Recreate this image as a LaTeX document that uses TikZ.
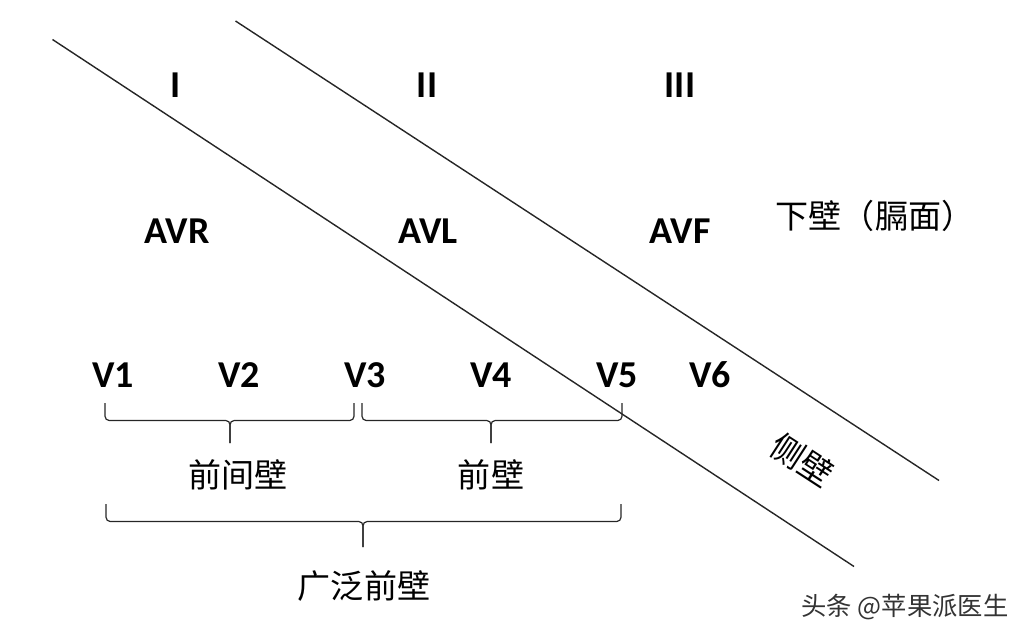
\documentclass[tikz,border=0pt]{standalone}
\usepackage{fontspec}
\setmainfont{Carlito}
\newfontfamily\cjkfont{Noto Sans CJK SC}
\usetikzlibrary{positioning}

\begin{document}
\begin{tikzpicture}[
    x=0.025cm, y=-0.025cm,
    lead/.style={font=\fontsize{27}{30}\selectfont\bfseries, inner sep=0pt},
    wall/.style={font=\cjkfont\fontsize{23.5}{26}\selectfont, inner sep=0pt},
    divider/.style={line width=1pt, black!85},
    brace/.style={line width=0.85pt, black!85, rounded corners=3},
]
\useasboundingbox (0,0) rectangle (1033,639);

% Dividing lines
\coordinate (d1a) at (52.5,39.5);
\coordinate (d1b) at (854,566.5);
\coordinate (d2a) at (235.5,21);
\coordinate (d2b) at (939,480.5);
\draw[divider] (d1a) -- (d1b);
\draw[divider] (d2a) -- (d2b);

% Limb leads
\node[lead] (lI)   at (176,85)  {I};
\node[lead] (lII)  at (427,85)  {II};
\node[lead] (lIII) at (680,85)  {III};
\node[lead] (avr)  at (177,231) {AVR};
\node[lead] (avl)  at (428,231) {AVL};
\node[lead] (avf)  at (680,231) {AVF};

% Chest leads
\node[lead] (v1) at (113,375) {V1};
\node[lead] (v2) at (239,375) {V2};
\node[lead] (v3) at (365,375) {V3};
\node[lead] (v4) at (491,375) {V4};
\node[lead] (v5) at (617,375) {V5};
\node[lead] (v6) at (710,375) {V6};

% Walls
\node[wall] (inferior) at (875,216) {下壁（膈面）};
\node[wall, rotate=-33, inner sep=0pt] (lateral) at (802,460) {侧壁};
\node[wall] (septal)   at (238,475) {前间壁};
\node[wall] (anterior) at (491,475) {前壁};
\node[wall] (extended) at (364,586) {广泛前壁};

% Braces
\draw[brace] (105,403) -- (105,420.5) -- (230,420.5) -- (230,443);
\draw[brace] (354,403) -- (354,420.5) -- (230,420.5) -- (230,443);
\draw[brace] (362,403) -- (362,420.5) -- (491,420.5) -- (491,443);
\draw[brace] (622,403) -- (622,420.5) -- (491,420.5) -- (491,443);
\draw[brace] (106,504) -- (106,521.5) -- (363,521.5) -- (363,547);
\draw[brace] (621,504) -- (621,521.5) -- (363,521.5) -- (363,547);

% Watermark
\node[font=\cjkfont\fontsize{18}{20}\selectfont, text=black!80, inner sep=0pt]
    (mark) at (905,607) {头条 @苹果派医生};
\end{tikzpicture}
\end{document}
